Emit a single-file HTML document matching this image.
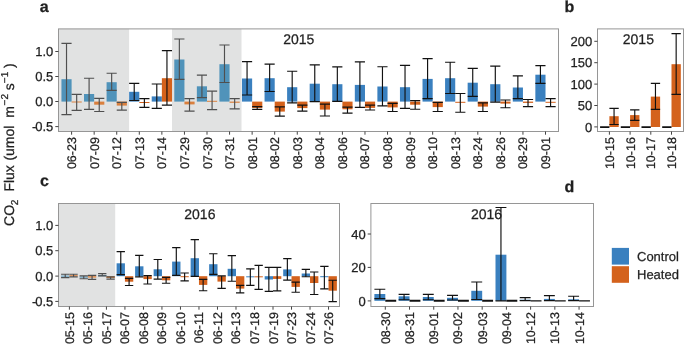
<!DOCTYPE html><html><head><meta charset="utf-8"><style>html,body{margin:0;padding:0;background:#fff;}svg{display:block;text-rendering:geometricPrecision;font-family:"Liberation Sans",sans-serif;}text{fill:#1f1f1f;stroke:#222;stroke-width:0.25px;}#fig{width:685px;height:345px;overflow:hidden;will-change:transform;}</style></head><body><div id="fig">
<svg width="685" height="345" viewBox="0 0 685 345">
<rect width="685" height="345" fill="#fff"/>
<rect x="58.5" y="28.9" width="70.6" height="102.6" fill="#e1e2e2"/>
<rect x="172" y="28.9" width="69.5" height="102.6" fill="#e1e2e2"/>
<rect x="61.44" y="79.2" width="10.16" height="22.4" fill="#5093ba"/>
<rect x="71.6" y="101.5" width="10.16" height="1" fill="#da803e"/>
<rect x="84.01" y="94" width="10.16" height="7.6" fill="#5093ba"/>
<rect x="94.17" y="101.6" width="10.16" height="3.1" fill="#da803e"/>
<rect x="106.58" y="82.2" width="10.16" height="19.4" fill="#5093ba"/>
<rect x="116.73" y="101.6" width="10.16" height="4" fill="#da803e"/>
<rect x="129.15" y="91.8" width="10.16" height="9.8" fill="#3a80bf"/>
<rect x="139.3" y="102" width="10.16" height="1" fill="#d4621c"/>
<rect x="151.71" y="96.4" width="10.16" height="5.2" fill="#3a80bf"/>
<rect x="161.87" y="78.2" width="10.16" height="23.4" fill="#d4621c"/>
<rect x="174.28" y="59.5" width="10.16" height="42.1" fill="#5093ba"/>
<rect x="184.44" y="101.6" width="10.16" height="2.8" fill="#da803e"/>
<rect x="196.85" y="86.3" width="10.16" height="15.3" fill="#5093ba"/>
<rect x="207" y="100.8" width="10.16" height="1" fill="#da803e"/>
<rect x="219.41" y="64.2" width="10.16" height="37.4" fill="#5093ba"/>
<rect x="229.57" y="101.6" width="10.16" height="1.2" fill="#da803e"/>
<rect x="241.98" y="78.5" width="10.16" height="23.1" fill="#3a80bf"/>
<rect x="252.14" y="101.6" width="10.16" height="6.4" fill="#d4621c"/>
<rect x="264.55" y="78.2" width="10.16" height="23.4" fill="#3a80bf"/>
<rect x="274.7" y="101.6" width="10.16" height="10" fill="#d4621c"/>
<rect x="287.11" y="87.2" width="10.16" height="14.4" fill="#3a80bf"/>
<rect x="297.27" y="101.6" width="10.16" height="6.5" fill="#d4621c"/>
<rect x="309.68" y="83.7" width="10.16" height="17.9" fill="#3a80bf"/>
<rect x="319.84" y="101.6" width="10.16" height="8" fill="#d4621c"/>
<rect x="332.25" y="84.2" width="10.16" height="17.4" fill="#3a80bf"/>
<rect x="342.4" y="101.6" width="10.16" height="7.7" fill="#d4621c"/>
<rect x="354.82" y="84.9" width="10.16" height="16.7" fill="#3a80bf"/>
<rect x="364.97" y="101.6" width="10.16" height="6.3" fill="#d4621c"/>
<rect x="377.38" y="86.5" width="10.16" height="15.1" fill="#3a80bf"/>
<rect x="387.54" y="101.6" width="10.16" height="5.8" fill="#d4621c"/>
<rect x="399.95" y="87.2" width="10.16" height="14.4" fill="#3a80bf"/>
<rect x="410.11" y="101.6" width="10.16" height="3.1" fill="#d4621c"/>
<rect x="422.52" y="78.9" width="10.16" height="22.7" fill="#3a80bf"/>
<rect x="432.67" y="101.6" width="10.16" height="5.5" fill="#d4621c"/>
<rect x="445.08" y="78.2" width="10.16" height="23.4" fill="#3a80bf"/>
<rect x="455.24" y="101.8" width="10.16" height="1" fill="#d4621c"/>
<rect x="467.65" y="82.7" width="10.16" height="18.9" fill="#3a80bf"/>
<rect x="477.81" y="101.6" width="10.16" height="5" fill="#d4621c"/>
<rect x="490.22" y="84.2" width="10.16" height="17.4" fill="#3a80bf"/>
<rect x="500.37" y="101.6" width="10.16" height="2" fill="#d4621c"/>
<rect x="512.78" y="87.5" width="10.16" height="14.1" fill="#3a80bf"/>
<rect x="522.94" y="101.6" width="10.16" height="1.3" fill="#d4621c"/>
<rect x="535.35" y="74.7" width="10.16" height="26.9" fill="#3a80bf"/>
<rect x="545.51" y="101.8" width="10.16" height="1" fill="#d4621c"/>
<path d="M61.44 43.3H71.6M66.52 43.3V114.6M61.44 114.6H71.6" stroke="#4f4f4f" stroke-width="1.15" fill="none"/>
<path d="M71.6 94.3H81.76M76.68 94.3V110.4M71.6 110.4H81.76" stroke="#4f4f4f" stroke-width="1.15" fill="none"/>
<path d="M84.01 78.2H94.17M89.09 78.2V109.3M84.01 109.3H94.17" stroke="#4f4f4f" stroke-width="1.15" fill="none"/>
<path d="M94.17 98.3H104.32M99.24 98.3V111.5M94.17 111.5H104.32" stroke="#4f4f4f" stroke-width="1.15" fill="none"/>
<path d="M106.58 73.2H116.73M111.66 73.2V90.4M106.58 90.4H116.73" stroke="#4f4f4f" stroke-width="1.15" fill="none"/>
<path d="M116.73 102.4H126.89M121.81 102.4V110.1M116.73 110.1H126.89" stroke="#4f4f4f" stroke-width="1.15" fill="none"/>
<path d="M129.15 83.4H139.3M134.22 83.4V100.5M129.15 100.5H139.3" stroke="#111111" stroke-width="1.15" fill="none"/>
<path d="M139.3 98.6H149.46M144.38 98.6V107.4M139.3 107.4H149.46" stroke="#111111" stroke-width="1.15" fill="none"/>
<path d="M151.71 84H161.87M156.79 84V108.4M151.71 108.4H161.87" stroke="#111111" stroke-width="1.15" fill="none"/>
<path d="M161.87 50.6H172.02M166.95 50.6V105.1M161.87 105.1H172.02" stroke="#111111" stroke-width="1.15" fill="none"/>
<path d="M174.28 39H184.44M179.36 39V79.4M174.28 79.4H184.44" stroke="#4f4f4f" stroke-width="1.15" fill="none"/>
<path d="M184.44 98.6H194.59M189.51 98.6V111.1M184.44 111.1H194.59" stroke="#4f4f4f" stroke-width="1.15" fill="none"/>
<path d="M196.85 75.1H207M201.92 75.1V97.6M196.85 97.6H207" stroke="#4f4f4f" stroke-width="1.15" fill="none"/>
<path d="M207 91.1H217.16M212.08 91.1V109.6M207 109.6H217.16" stroke="#4f4f4f" stroke-width="1.15" fill="none"/>
<path d="M219.41 45H229.57M224.49 45V82.5M219.41 82.5H229.57" stroke="#4f4f4f" stroke-width="1.15" fill="none"/>
<path d="M229.57 98.6H239.72M234.65 98.6V108.9M229.57 108.9H239.72" stroke="#4f4f4f" stroke-width="1.15" fill="none"/>
<path d="M241.98 61.6H252.14M247.06 61.6V95M241.98 95H252.14" stroke="#111111" stroke-width="1.15" fill="none"/>
<path d="M252.14 106.6H262.29M257.21 106.6V109.3M252.14 109.3H262.29" stroke="#111111" stroke-width="1.15" fill="none"/>
<path d="M264.55 64.1H274.7M269.63 64.1V91.5M264.55 91.5H274.7" stroke="#111111" stroke-width="1.15" fill="none"/>
<path d="M274.7 106.9H284.86M279.78 106.9V116.1M274.7 116.1H284.86" stroke="#111111" stroke-width="1.15" fill="none"/>
<path d="M287.11 71.2H297.27M292.19 71.2V102.9M287.11 102.9H297.27" stroke="#111111" stroke-width="1.15" fill="none"/>
<path d="M297.27 105.1H307.43M302.35 105.1V111.1M297.27 111.1H307.43" stroke="#111111" stroke-width="1.15" fill="none"/>
<path d="M309.68 64.9H319.84M314.76 64.9V101.6M309.68 101.6H319.84" stroke="#111111" stroke-width="1.15" fill="none"/>
<path d="M319.84 104.1H329.99M324.91 104.1V116M319.84 116H329.99" stroke="#111111" stroke-width="1.15" fill="none"/>
<path d="M332.25 66.8H342.4M337.33 66.8V101.3M332.25 101.3H342.4" stroke="#111111" stroke-width="1.15" fill="none"/>
<path d="M342.4 107.1H352.56M347.48 107.1V113.1M342.4 113.1H352.56" stroke="#111111" stroke-width="1.15" fill="none"/>
<path d="M354.82 61.9H364.97M359.89 61.9V107.4M354.82 107.4H364.97" stroke="#111111" stroke-width="1.15" fill="none"/>
<path d="M364.97 105.1H375.13M370.05 105.1V110M364.97 110H375.13" stroke="#111111" stroke-width="1.15" fill="none"/>
<path d="M377.38 66.7H387.54M382.46 66.7V105.9M377.38 105.9H387.54" stroke="#111111" stroke-width="1.15" fill="none"/>
<path d="M387.54 103.3H397.69M392.62 103.3V111.5M387.54 111.5H397.69" stroke="#111111" stroke-width="1.15" fill="none"/>
<path d="M399.95 65.3H410.11M405.03 65.3V108.4M399.95 108.4H410.11" stroke="#111111" stroke-width="1.15" fill="none"/>
<path d="M410.11 100.6H420.26M415.18 100.6V109.2M410.11 109.2H420.26" stroke="#111111" stroke-width="1.15" fill="none"/>
<path d="M422.52 58.6H432.67M427.59 58.6V98.6M422.52 98.6H432.67" stroke="#111111" stroke-width="1.15" fill="none"/>
<path d="M432.67 102.4H442.83M437.75 102.4V111.5M432.67 111.5H442.83" stroke="#111111" stroke-width="1.15" fill="none"/>
<path d="M445.08 62.2H455.24M450.16 62.2V93.5M445.08 93.5H455.24" stroke="#111111" stroke-width="1.15" fill="none"/>
<path d="M455.24 93.5H465.39M460.32 93.5V112.2M455.24 112.2H465.39" stroke="#111111" stroke-width="1.15" fill="none"/>
<path d="M467.65 68.4H477.81M472.73 68.4V96.4M467.65 96.4H477.81" stroke="#111111" stroke-width="1.15" fill="none"/>
<path d="M477.81 102.9H487.96M482.88 102.9V111.5M477.81 111.5H487.96" stroke="#111111" stroke-width="1.15" fill="none"/>
<path d="M490.22 66.1H500.37M495.3 66.1V102.1M490.22 102.1H500.37" stroke="#111111" stroke-width="1.15" fill="none"/>
<path d="M500.37 100H510.53M505.45 100V107.7M500.37 107.7H510.53" stroke="#111111" stroke-width="1.15" fill="none"/>
<path d="M512.78 75.9H522.94M517.86 75.9V98.6M512.78 98.6H522.94" stroke="#111111" stroke-width="1.15" fill="none"/>
<path d="M522.94 99.5H533.1M528.02 99.5V106.6M522.94 106.6H533.1" stroke="#111111" stroke-width="1.15" fill="none"/>
<path d="M535.35 65.6H545.51M540.43 65.6V83.4M535.35 83.4H545.51" stroke="#111111" stroke-width="1.15" fill="none"/>
<path d="M545.51 98.6H555.66M550.58 98.6V106.6M545.51 106.6H555.66" stroke="#111111" stroke-width="1.15" fill="none"/>
<rect x="58.5" y="28.9" width="500" height="102.6" fill="none" stroke="#969696" stroke-width="1"/>
<line x1="55.3" y1="51.5" x2="58.5" y2="51.5" stroke="#444444" stroke-width="1"/>
<text transform="translate(53.3 56.12) rotate(0.01)" text-anchor="end" font-size="13">1.0</text>
<line x1="55.3" y1="76.5" x2="58.5" y2="76.5" stroke="#444444" stroke-width="1"/>
<text transform="translate(53.3 81.11) rotate(0.01)" text-anchor="end" font-size="13">0.5</text>
<line x1="55.3" y1="101.5" x2="58.5" y2="101.5" stroke="#444444" stroke-width="1"/>
<text transform="translate(53.3 106.11) rotate(0.01)" text-anchor="end" font-size="13">0.0</text>
<line x1="55.3" y1="126.6" x2="58.5" y2="126.6" stroke="#444444" stroke-width="1"/>
<text transform="translate(53.3 131.22) rotate(0.01)" text-anchor="end" font-size="13">-<tspan dx="-1.2">0.5</tspan></text>
<line x1="71.6" y1="131.5" x2="71.6" y2="134.7" stroke="#444444" stroke-width="1"/>
<text transform="translate(76.1 137.1) rotate(-90.01)" text-anchor="end" font-size="12.5">06-23</text>
<line x1="94.17" y1="131.5" x2="94.17" y2="134.7" stroke="#444444" stroke-width="1"/>
<text transform="translate(98.67 137.1) rotate(-90.01)" text-anchor="end" font-size="12.5">07-09</text>
<line x1="116.73" y1="131.5" x2="116.73" y2="134.7" stroke="#444444" stroke-width="1"/>
<text transform="translate(121.23 137.1) rotate(-90.01)" text-anchor="end" font-size="12.5">07-12</text>
<line x1="139.3" y1="131.5" x2="139.3" y2="134.7" stroke="#444444" stroke-width="1"/>
<text transform="translate(143.8 137.1) rotate(-90.01)" text-anchor="end" font-size="12.5">07-13</text>
<line x1="161.87" y1="131.5" x2="161.87" y2="134.7" stroke="#444444" stroke-width="1"/>
<text transform="translate(166.37 137.1) rotate(-90.01)" text-anchor="end" font-size="12.5">07-14</text>
<line x1="184.44" y1="131.5" x2="184.44" y2="134.7" stroke="#444444" stroke-width="1"/>
<text transform="translate(188.94 137.1) rotate(-90.01)" text-anchor="end" font-size="12.5">07-29</text>
<line x1="207" y1="131.5" x2="207" y2="134.7" stroke="#444444" stroke-width="1"/>
<text transform="translate(211.5 137.1) rotate(-90.01)" text-anchor="end" font-size="12.5">07-30</text>
<line x1="229.57" y1="131.5" x2="229.57" y2="134.7" stroke="#444444" stroke-width="1"/>
<text transform="translate(234.07 137.1) rotate(-90.01)" text-anchor="end" font-size="12.5">07-31</text>
<line x1="252.14" y1="131.5" x2="252.14" y2="134.7" stroke="#444444" stroke-width="1"/>
<text transform="translate(256.64 137.1) rotate(-90.01)" text-anchor="end" font-size="12.5">08-01</text>
<line x1="274.7" y1="131.5" x2="274.7" y2="134.7" stroke="#444444" stroke-width="1"/>
<text transform="translate(279.2 137.1) rotate(-90.01)" text-anchor="end" font-size="12.5">08-02</text>
<line x1="297.27" y1="131.5" x2="297.27" y2="134.7" stroke="#444444" stroke-width="1"/>
<text transform="translate(301.77 137.1) rotate(-90.01)" text-anchor="end" font-size="12.5">08-03</text>
<line x1="319.84" y1="131.5" x2="319.84" y2="134.7" stroke="#444444" stroke-width="1"/>
<text transform="translate(324.34 137.1) rotate(-90.01)" text-anchor="end" font-size="12.5">08-04</text>
<line x1="342.4" y1="131.5" x2="342.4" y2="134.7" stroke="#444444" stroke-width="1"/>
<text transform="translate(346.9 137.1) rotate(-90.01)" text-anchor="end" font-size="12.5">08-06</text>
<line x1="364.97" y1="131.5" x2="364.97" y2="134.7" stroke="#444444" stroke-width="1"/>
<text transform="translate(369.47 137.1) rotate(-90.01)" text-anchor="end" font-size="12.5">08-07</text>
<line x1="387.54" y1="131.5" x2="387.54" y2="134.7" stroke="#444444" stroke-width="1"/>
<text transform="translate(392.04 137.1) rotate(-90.01)" text-anchor="end" font-size="12.5">08-08</text>
<line x1="410.11" y1="131.5" x2="410.11" y2="134.7" stroke="#444444" stroke-width="1"/>
<text transform="translate(414.61 137.1) rotate(-90.01)" text-anchor="end" font-size="12.5">08-09</text>
<line x1="432.67" y1="131.5" x2="432.67" y2="134.7" stroke="#444444" stroke-width="1"/>
<text transform="translate(437.17 137.1) rotate(-90.01)" text-anchor="end" font-size="12.5">08-10</text>
<line x1="455.24" y1="131.5" x2="455.24" y2="134.7" stroke="#444444" stroke-width="1"/>
<text transform="translate(459.74 137.1) rotate(-90.01)" text-anchor="end" font-size="12.5">08-13</text>
<line x1="477.81" y1="131.5" x2="477.81" y2="134.7" stroke="#444444" stroke-width="1"/>
<text transform="translate(482.31 137.1) rotate(-90.01)" text-anchor="end" font-size="12.5">08-24</text>
<line x1="500.37" y1="131.5" x2="500.37" y2="134.7" stroke="#444444" stroke-width="1"/>
<text transform="translate(504.87 137.1) rotate(-90.01)" text-anchor="end" font-size="12.5">08-26</text>
<line x1="522.94" y1="131.5" x2="522.94" y2="134.7" stroke="#444444" stroke-width="1"/>
<text transform="translate(527.44 137.1) rotate(-90.01)" text-anchor="end" font-size="12.5">08-29</text>
<line x1="545.51" y1="131.5" x2="545.51" y2="134.7" stroke="#444444" stroke-width="1"/>
<text transform="translate(550.01 137.1) rotate(-90.01)" text-anchor="end" font-size="12.5">09-01</text>
<text transform="translate(283.2 44) rotate(0.01)" font-size="14">2015</text>
<rect x="609.4" y="116.2" width="9.32" height="10.8" fill="#d4621c"/>
<rect x="630.1" y="115.1" width="9.32" height="11.9" fill="#d4621c"/>
<rect x="650.8" y="96.6" width="9.32" height="30.4" fill="#d4621c"/>
<rect x="671.5" y="64.2" width="9.32" height="62.8" fill="#d4621c"/>
<path d="M600.08 126.7H609.4M604.74 126.7V127.3M600.08 127.3H609.4" stroke="#111111" stroke-width="1.15" fill="none"/>
<path d="M609.4 108.3H618.72M614.06 108.3V124.5M609.4 124.5H618.72" stroke="#111111" stroke-width="1.15" fill="none"/>
<path d="M620.78 126.7H630.1M625.44 126.7V127.3M620.78 127.3H630.1" stroke="#111111" stroke-width="1.15" fill="none"/>
<path d="M630.1 109.8H639.42M634.76 109.8V120.4M630.1 120.4H639.42" stroke="#111111" stroke-width="1.15" fill="none"/>
<path d="M641.48 126.7H650.8M646.14 126.7V127.3M641.48 127.3H650.8" stroke="#111111" stroke-width="1.15" fill="none"/>
<path d="M650.8 83.3H660.12M655.46 83.3V109.4M650.8 109.4H660.12" stroke="#111111" stroke-width="1.15" fill="none"/>
<path d="M662.18 126.7H671.5M666.84 126.7V127.3M662.18 127.3H671.5" stroke="#111111" stroke-width="1.15" fill="none"/>
<path d="M671.5 33.6H680.82M676.16 33.6V94.3M671.5 94.3H680.82" stroke="#111111" stroke-width="1.15" fill="none"/>
<rect x="597.5" y="28.9" width="86" height="102.6" fill="none" stroke="#969696" stroke-width="1"/>
<line x1="594.3" y1="41.3" x2="597.5" y2="41.3" stroke="#444444" stroke-width="1"/>
<text transform="translate(592.3 45.91) rotate(0.01)" text-anchor="end" font-size="13">200</text>
<line x1="594.3" y1="62.7" x2="597.5" y2="62.7" stroke="#444444" stroke-width="1"/>
<text transform="translate(592.3 67.31) rotate(0.01)" text-anchor="end" font-size="13">150</text>
<line x1="594.3" y1="84.1" x2="597.5" y2="84.1" stroke="#444444" stroke-width="1"/>
<text transform="translate(592.3 88.71) rotate(0.01)" text-anchor="end" font-size="13">100</text>
<line x1="594.3" y1="105.5" x2="597.5" y2="105.5" stroke="#444444" stroke-width="1"/>
<text transform="translate(592.3 110.11) rotate(0.01)" text-anchor="end" font-size="13">50</text>
<line x1="594.3" y1="126.9" x2="597.5" y2="126.9" stroke="#444444" stroke-width="1"/>
<text transform="translate(592.3 131.52) rotate(0.01)" text-anchor="end" font-size="13">0</text>
<line x1="609.4" y1="131.5" x2="609.4" y2="134.7" stroke="#444444" stroke-width="1"/>
<text transform="translate(613.9 137.1) rotate(-90.01)" text-anchor="end" font-size="12.5">10-15</text>
<line x1="630.1" y1="131.5" x2="630.1" y2="134.7" stroke="#444444" stroke-width="1"/>
<text transform="translate(634.6 137.1) rotate(-90.01)" text-anchor="end" font-size="12.5">10-16</text>
<line x1="650.8" y1="131.5" x2="650.8" y2="134.7" stroke="#444444" stroke-width="1"/>
<text transform="translate(655.3 137.1) rotate(-90.01)" text-anchor="end" font-size="12.5">10-17</text>
<line x1="671.5" y1="131.5" x2="671.5" y2="134.7" stroke="#444444" stroke-width="1"/>
<text transform="translate(676 137.1) rotate(-90.01)" text-anchor="end" font-size="12.5">10-18</text>
<text transform="translate(622.8 44) rotate(0.01)" font-size="14">2015</text>
<rect x="58.5" y="203.5" width="56.7" height="103" fill="#e1e2e2"/>
<rect x="61.07" y="275.6" width="8.33" height="1" fill="#5093ba"/>
<rect x="69.4" y="275.2" width="8.33" height="1" fill="#da803e"/>
<rect x="79.58" y="276.6" width="8.33" height="1" fill="#5093ba"/>
<rect x="87.91" y="276.2" width="8.33" height="1.4" fill="#da803e"/>
<rect x="98.09" y="275" width="8.33" height="1.2" fill="#5093ba"/>
<rect x="106.42" y="276.2" width="8.33" height="1.8" fill="#da803e"/>
<rect x="116.6" y="263.3" width="8.33" height="12.9" fill="#3a80bf"/>
<rect x="124.93" y="276.2" width="8.33" height="5.5" fill="#d4621c"/>
<rect x="135.11" y="266.3" width="8.33" height="9.9" fill="#3a80bf"/>
<rect x="143.44" y="276.2" width="8.33" height="2.9" fill="#d4621c"/>
<rect x="153.62" y="269.3" width="8.33" height="6.9" fill="#3a80bf"/>
<rect x="161.95" y="276.2" width="8.33" height="4.1" fill="#d4621c"/>
<rect x="172.13" y="261.6" width="8.33" height="14.6" fill="#3a80bf"/>
<rect x="180.46" y="276.2" width="8.33" height="1" fill="#d4621c"/>
<rect x="190.64" y="258.2" width="8.33" height="18" fill="#3a80bf"/>
<rect x="198.97" y="276.2" width="8.33" height="8.7" fill="#d4621c"/>
<rect x="209.15" y="264.2" width="8.33" height="12" fill="#3a80bf"/>
<rect x="217.48" y="276.2" width="8.33" height="5.4" fill="#d4621c"/>
<rect x="227.66" y="268.8" width="8.33" height="7.4" fill="#3a80bf"/>
<rect x="235.99" y="276.2" width="8.33" height="12.4" fill="#d4621c"/>
<rect x="246.17" y="276.3" width="8.33" height="1" fill="#3a80bf"/>
<rect x="254.5" y="276.3" width="8.33" height="1" fill="#d4621c"/>
<rect x="264.68" y="276.2" width="8.33" height="3.3" fill="#3a80bf"/>
<rect x="273.01" y="276.2" width="8.33" height="2.7" fill="#d4621c"/>
<rect x="283.19" y="269.4" width="8.33" height="6.8" fill="#3a80bf"/>
<rect x="291.52" y="276.2" width="8.33" height="10.7" fill="#d4621c"/>
<rect x="301.7" y="273.5" width="8.33" height="2.7" fill="#3a80bf"/>
<rect x="310.03" y="276.2" width="8.33" height="6.8" fill="#d4621c"/>
<rect x="320.21" y="276.2" width="8.33" height="1" fill="#3a80bf"/>
<rect x="328.54" y="276.2" width="8.33" height="14.5" fill="#d4621c"/>
<path d="M61.07 274.2H69.4M65.24 274.2V277.6M61.07 277.6H69.4" stroke="#4f4f4f" stroke-width="1.15" fill="none"/>
<path d="M69.4 274.2H77.73M73.56 274.2V276.9M69.4 276.9H77.73" stroke="#4f4f4f" stroke-width="1.15" fill="none"/>
<path d="M79.58 275.8H87.91M83.75 275.8V278.7M79.58 278.7H87.91" stroke="#4f4f4f" stroke-width="1.15" fill="none"/>
<path d="M87.91 275.4H96.24M92.07 275.4V279.4M87.91 279.4H96.24" stroke="#4f4f4f" stroke-width="1.15" fill="none"/>
<path d="M98.09 273.6H106.42M102.26 273.6V275.8M98.09 275.8H106.42" stroke="#4f4f4f" stroke-width="1.15" fill="none"/>
<path d="M106.42 276.9H114.75M110.58 276.9V279.1M106.42 279.1H114.75" stroke="#4f4f4f" stroke-width="1.15" fill="none"/>
<path d="M116.6 251.6H124.93M120.77 251.6V274.6M116.6 274.6H124.93" stroke="#111111" stroke-width="1.15" fill="none"/>
<path d="M124.93 278.4H133.26M129.09 278.4V285.5M124.93 285.5H133.26" stroke="#111111" stroke-width="1.15" fill="none"/>
<path d="M135.11 255.4H143.44M139.28 255.4V276.9M135.11 276.9H143.44" stroke="#111111" stroke-width="1.15" fill="none"/>
<path d="M143.44 275.6H151.77M147.6 275.6V284M143.44 284H151.77" stroke="#111111" stroke-width="1.15" fill="none"/>
<path d="M153.62 259.5H161.95M157.79 259.5V279.1M153.62 279.1H161.95" stroke="#111111" stroke-width="1.15" fill="none"/>
<path d="M161.95 277.3H170.28M166.11 277.3V283.2M161.95 283.2H170.28" stroke="#111111" stroke-width="1.15" fill="none"/>
<path d="M172.13 247.6H180.46M176.3 247.6V275.3M172.13 275.3H180.46" stroke="#111111" stroke-width="1.15" fill="none"/>
<path d="M180.46 273H188.79M184.62 273V280.9M180.46 280.9H188.79" stroke="#111111" stroke-width="1.15" fill="none"/>
<path d="M190.64 239.6H198.97M194.81 239.6V276.3M190.64 276.3H198.97" stroke="#111111" stroke-width="1.15" fill="none"/>
<path d="M198.97 279.3H207.3M203.13 279.3V290.7M198.97 290.7H207.3" stroke="#111111" stroke-width="1.15" fill="none"/>
<path d="M209.15 253.7H217.48M213.32 253.7V274.4M209.15 274.4H217.48" stroke="#111111" stroke-width="1.15" fill="none"/>
<path d="M217.48 275.9H225.81M221.64 275.9V288.4M217.48 288.4H225.81" stroke="#111111" stroke-width="1.15" fill="none"/>
<path d="M227.66 255.6H235.99M231.83 255.6V281.2M227.66 281.2H235.99" stroke="#111111" stroke-width="1.15" fill="none"/>
<path d="M235.99 285.3H244.32M240.15 285.3V292.8M235.99 292.8H244.32" stroke="#111111" stroke-width="1.15" fill="none"/>
<path d="M246.17 268.8H254.5M250.34 268.8V285.3M246.17 285.3H254.5" stroke="#111111" stroke-width="1.15" fill="none"/>
<path d="M254.5 265.4H262.83M258.66 265.4V289.4M254.5 289.4H262.83" stroke="#111111" stroke-width="1.15" fill="none"/>
<path d="M264.68 267.3H273.01M268.85 267.3V291.3M264.68 291.3H273.01" stroke="#111111" stroke-width="1.15" fill="none"/>
<path d="M273.01 267.3H281.34M277.17 267.3V290.9M273.01 290.9H281.34" stroke="#111111" stroke-width="1.15" fill="none"/>
<path d="M283.19 258.6H291.52M287.36 258.6V280.1M283.19 280.1H291.52" stroke="#111111" stroke-width="1.15" fill="none"/>
<path d="M291.52 282.1H299.85M295.68 282.1V292.2M291.52 292.2H299.85" stroke="#111111" stroke-width="1.15" fill="none"/>
<path d="M301.7 269.3H310.03M305.87 269.3V276.7M301.7 276.7H310.03" stroke="#111111" stroke-width="1.15" fill="none"/>
<path d="M310.03 272H318.36M314.19 272V294.5M310.03 294.5H318.36" stroke="#111111" stroke-width="1.15" fill="none"/>
<path d="M320.21 266.4H328.54M324.38 266.4V288.8M320.21 288.8H328.54" stroke="#111111" stroke-width="1.15" fill="none"/>
<path d="M328.54 280.2H336.87M332.7 280.2V301.6M328.54 301.6H336.87" stroke="#111111" stroke-width="1.15" fill="none"/>
<rect x="58.5" y="203.5" width="281" height="103" fill="none" stroke="#969696" stroke-width="1"/>
<line x1="55.3" y1="225.4" x2="58.5" y2="225.4" stroke="#444444" stroke-width="1"/>
<text transform="translate(53.3 230.02) rotate(0.01)" text-anchor="end" font-size="13">1.0</text>
<line x1="55.3" y1="250.7" x2="58.5" y2="250.7" stroke="#444444" stroke-width="1"/>
<text transform="translate(53.3 255.31) rotate(0.01)" text-anchor="end" font-size="13">0.5</text>
<line x1="55.3" y1="276.1" x2="58.5" y2="276.1" stroke="#444444" stroke-width="1"/>
<text transform="translate(53.3 280.72) rotate(0.01)" text-anchor="end" font-size="13">0.0</text>
<line x1="55.3" y1="301.4" x2="58.5" y2="301.4" stroke="#444444" stroke-width="1"/>
<text transform="translate(53.3 306.01) rotate(0.01)" text-anchor="end" font-size="13">-<tspan dx="-1.2">0.5</tspan></text>
<line x1="69.4" y1="306.5" x2="69.4" y2="309.7" stroke="#444444" stroke-width="1"/>
<text transform="translate(73.9 312.1) rotate(-90.01)" text-anchor="end" font-size="12.5">05-15</text>
<line x1="87.91" y1="306.5" x2="87.91" y2="309.7" stroke="#444444" stroke-width="1"/>
<text transform="translate(92.41 312.1) rotate(-90.01)" text-anchor="end" font-size="12.5">05-16</text>
<line x1="106.42" y1="306.5" x2="106.42" y2="309.7" stroke="#444444" stroke-width="1"/>
<text transform="translate(110.92 312.1) rotate(-90.01)" text-anchor="end" font-size="12.5">05-17</text>
<line x1="124.93" y1="306.5" x2="124.93" y2="309.7" stroke="#444444" stroke-width="1"/>
<text transform="translate(129.43 312.1) rotate(-90.01)" text-anchor="end" font-size="12.5">06-07</text>
<line x1="143.44" y1="306.5" x2="143.44" y2="309.7" stroke="#444444" stroke-width="1"/>
<text transform="translate(147.94 312.1) rotate(-90.01)" text-anchor="end" font-size="12.5">06-08</text>
<line x1="161.95" y1="306.5" x2="161.95" y2="309.7" stroke="#444444" stroke-width="1"/>
<text transform="translate(166.45 312.1) rotate(-90.01)" text-anchor="end" font-size="12.5">06-09</text>
<line x1="180.46" y1="306.5" x2="180.46" y2="309.7" stroke="#444444" stroke-width="1"/>
<text transform="translate(184.96 312.1) rotate(-90.01)" text-anchor="end" font-size="12.5">06-10</text>
<line x1="198.97" y1="306.5" x2="198.97" y2="309.7" stroke="#444444" stroke-width="1"/>
<text transform="translate(203.47 312.1) rotate(-90.01)" text-anchor="end" font-size="12.5">06-11</text>
<line x1="217.48" y1="306.5" x2="217.48" y2="309.7" stroke="#444444" stroke-width="1"/>
<text transform="translate(221.98 312.1) rotate(-90.01)" text-anchor="end" font-size="12.5">06-12</text>
<line x1="235.99" y1="306.5" x2="235.99" y2="309.7" stroke="#444444" stroke-width="1"/>
<text transform="translate(240.49 312.1) rotate(-90.01)" text-anchor="end" font-size="12.5">06-13</text>
<line x1="254.5" y1="306.5" x2="254.5" y2="309.7" stroke="#444444" stroke-width="1"/>
<text transform="translate(259 312.1) rotate(-90.01)" text-anchor="end" font-size="12.5">07-18</text>
<line x1="273.01" y1="306.5" x2="273.01" y2="309.7" stroke="#444444" stroke-width="1"/>
<text transform="translate(277.51 312.1) rotate(-90.01)" text-anchor="end" font-size="12.5">07-19</text>
<line x1="291.52" y1="306.5" x2="291.52" y2="309.7" stroke="#444444" stroke-width="1"/>
<text transform="translate(296.02 312.1) rotate(-90.01)" text-anchor="end" font-size="12.5">07-23</text>
<line x1="310.03" y1="306.5" x2="310.03" y2="309.7" stroke="#444444" stroke-width="1"/>
<text transform="translate(314.53 312.1) rotate(-90.01)" text-anchor="end" font-size="12.5">07-24</text>
<line x1="328.54" y1="306.5" x2="328.54" y2="309.7" stroke="#444444" stroke-width="1"/>
<text transform="translate(333.04 312.1) rotate(-90.01)" text-anchor="end" font-size="12.5">07-26</text>
<text transform="translate(184.3 219) rotate(0.01)" font-size="14">2016</text>
<rect x="374.4" y="294" width="10.9" height="6.8" fill="#3a80bf"/>
<rect x="398.62" y="296.3" width="10.9" height="4.5" fill="#3a80bf"/>
<rect x="422.84" y="297" width="10.9" height="3.8" fill="#3a80bf"/>
<rect x="447.06" y="297.8" width="10.9" height="3" fill="#3a80bf"/>
<rect x="471.28" y="290.8" width="10.9" height="10" fill="#3a80bf"/>
<rect x="495.5" y="254.7" width="10.9" height="46.1" fill="#3a80bf"/>
<rect x="519.72" y="299.7" width="10.9" height="1.1" fill="#3a80bf"/>
<rect x="543.94" y="298.9" width="10.9" height="1.9" fill="#3a80bf"/>
<rect x="568.16" y="299.3" width="10.9" height="1.5" fill="#3a80bf"/>
<path d="M374.4 289.2H385.3M379.85 289.2V298.6M374.4 298.6H385.3" stroke="#111111" stroke-width="1.15" fill="none"/>
<path d="M385.3 300.4H396.2M390.75 300.4V301.2M385.3 301.2H396.2" stroke="#111111" stroke-width="1.15" fill="none"/>
<path d="M398.62 294.4H409.52M404.07 294.4V299.7M398.62 299.7H409.52" stroke="#111111" stroke-width="1.15" fill="none"/>
<path d="M409.52 300.4H420.42M414.97 300.4V301.2M409.52 301.2H420.42" stroke="#111111" stroke-width="1.15" fill="none"/>
<path d="M422.84 294.4H433.74M428.29 294.4V299.7M422.84 299.7H433.74" stroke="#111111" stroke-width="1.15" fill="none"/>
<path d="M433.74 300.4H444.64M439.19 300.4V301.2M433.74 301.2H444.64" stroke="#111111" stroke-width="1.15" fill="none"/>
<path d="M447.06 295.4H457.96M452.51 295.4V300M447.06 300H457.96" stroke="#111111" stroke-width="1.15" fill="none"/>
<path d="M457.96 300.4H468.86M463.41 300.4V301.2M457.96 301.2H468.86" stroke="#111111" stroke-width="1.15" fill="none"/>
<path d="M471.28 282H482.18M476.73 282V299.5M471.28 299.5H482.18" stroke="#111111" stroke-width="1.15" fill="none"/>
<path d="M482.18 300.4H493.08M487.63 300.4V301.2M482.18 301.2H493.08" stroke="#111111" stroke-width="1.15" fill="none"/>
<path d="M495.5 207.5H506.4M500.95 207.5V300.8M495.5 300.8H506.4" stroke="#111111" stroke-width="1.15" fill="none"/>
<path d="M506.4 300.4H517.3M511.85 300.4V301.2M506.4 301.2H517.3" stroke="#111111" stroke-width="1.15" fill="none"/>
<path d="M519.72 297.6H530.62M525.17 297.6V300.6M519.72 300.6H530.62" stroke="#111111" stroke-width="1.15" fill="none"/>
<path d="M530.62 300.8H541.52M536.07 300.8V300.8M530.62 300.8H541.52" stroke="#111111" stroke-width="1.15" fill="none"/>
<path d="M543.94 295.6H554.84M549.39 295.6V300.6M543.94 300.6H554.84" stroke="#111111" stroke-width="1.15" fill="none"/>
<path d="M554.84 300.8H565.74M560.29 300.8V300.8M554.84 300.8H565.74" stroke="#111111" stroke-width="1.15" fill="none"/>
<path d="M568.16 296.2H579.06M573.61 296.2V300.6M568.16 300.6H579.06" stroke="#111111" stroke-width="1.15" fill="none"/>
<path d="M579.06 300.8H589.96M584.51 300.8V300.8M579.06 300.8H589.96" stroke="#111111" stroke-width="1.15" fill="none"/>
<rect x="370.9" y="203.5" width="222.6" height="103" fill="none" stroke="#969696" stroke-width="1"/>
<line x1="367.7" y1="300.9" x2="370.9" y2="300.9" stroke="#444444" stroke-width="1"/>
<text transform="translate(365.7 305.51) rotate(0.01)" text-anchor="end" font-size="13">0</text>
<line x1="367.7" y1="267.4" x2="370.9" y2="267.4" stroke="#444444" stroke-width="1"/>
<text transform="translate(365.7 272.01) rotate(0.01)" text-anchor="end" font-size="13">20</text>
<line x1="367.7" y1="234" x2="370.9" y2="234" stroke="#444444" stroke-width="1"/>
<text transform="translate(365.7 238.62) rotate(0.01)" text-anchor="end" font-size="13">40</text>
<line x1="385.3" y1="306.5" x2="385.3" y2="309.7" stroke="#444444" stroke-width="1"/>
<text transform="translate(389.8 312.1) rotate(-90.01)" text-anchor="end" font-size="12.5">08-30</text>
<line x1="409.52" y1="306.5" x2="409.52" y2="309.7" stroke="#444444" stroke-width="1"/>
<text transform="translate(414.02 312.1) rotate(-90.01)" text-anchor="end" font-size="12.5">08-31</text>
<line x1="433.74" y1="306.5" x2="433.74" y2="309.7" stroke="#444444" stroke-width="1"/>
<text transform="translate(438.24 312.1) rotate(-90.01)" text-anchor="end" font-size="12.5">09-01</text>
<line x1="457.96" y1="306.5" x2="457.96" y2="309.7" stroke="#444444" stroke-width="1"/>
<text transform="translate(462.46 312.1) rotate(-90.01)" text-anchor="end" font-size="12.5">09-02</text>
<line x1="482.18" y1="306.5" x2="482.18" y2="309.7" stroke="#444444" stroke-width="1"/>
<text transform="translate(486.68 312.1) rotate(-90.01)" text-anchor="end" font-size="12.5">09-03</text>
<line x1="506.4" y1="306.5" x2="506.4" y2="309.7" stroke="#444444" stroke-width="1"/>
<text transform="translate(510.9 312.1) rotate(-90.01)" text-anchor="end" font-size="12.5">09-04</text>
<line x1="530.62" y1="306.5" x2="530.62" y2="309.7" stroke="#444444" stroke-width="1"/>
<text transform="translate(535.12 312.1) rotate(-90.01)" text-anchor="end" font-size="12.5">10-12</text>
<line x1="554.84" y1="306.5" x2="554.84" y2="309.7" stroke="#444444" stroke-width="1"/>
<text transform="translate(559.34 312.1) rotate(-90.01)" text-anchor="end" font-size="12.5">10-13</text>
<line x1="579.06" y1="306.5" x2="579.06" y2="309.7" stroke="#444444" stroke-width="1"/>
<text transform="translate(583.56 312.1) rotate(-90.01)" text-anchor="end" font-size="12.5">10-14</text>
<text transform="translate(471 219) rotate(0.01)" font-size="14">2016</text>
<text transform="translate(39.7 12) rotate(0.01)" font-size="16" font-weight="bold">a</text>
<text transform="translate(564.6 12.2) rotate(0.01)" font-size="16" font-weight="bold">b</text>
<text transform="translate(39.9 186) rotate(0.01)" font-size="16" font-weight="bold">c</text>
<text transform="translate(564.6 191.5) rotate(0.01)" font-size="16" font-weight="bold">d</text>
<text transform="translate(14.3 225.9) rotate(-90.01)" font-size="14">CO</text>
<text transform="translate(17.8 205.2) rotate(-90.01)" font-size="10">2</text>
<text transform="translate(14.3 191.6) rotate(-90.01)" font-size="14">Flux</text>
<text transform="translate(14.3 160.6) rotate(-90.01)" font-size="14">(umol</text>
<text transform="translate(14.3 117.8) rotate(-90.01)" font-size="14">m</text>
<text transform="translate(8.2 105.4) rotate(-90.01)" font-size="10">−2</text>
<text transform="translate(14.3 90.3) rotate(-90.01)" font-size="14">s</text>
<text transform="translate(8 83.2) rotate(-90.01)" font-size="10">−1</text>
<text transform="translate(14.3 68) rotate(-90.01)" font-size="14">)</text>
<rect x="611.8" y="247.9" width="17.2" height="16.7" fill="#3a80bf"/>
<rect x="611.8" y="266.2" width="17.2" height="16.6" fill="#d4621c"/>
<text transform="translate(637 261.3) rotate(0.01)" font-size="13">Control</text>
<text transform="translate(637 279.2) rotate(0.01)" font-size="13">Heated</text>
</svg></div></body></html>
